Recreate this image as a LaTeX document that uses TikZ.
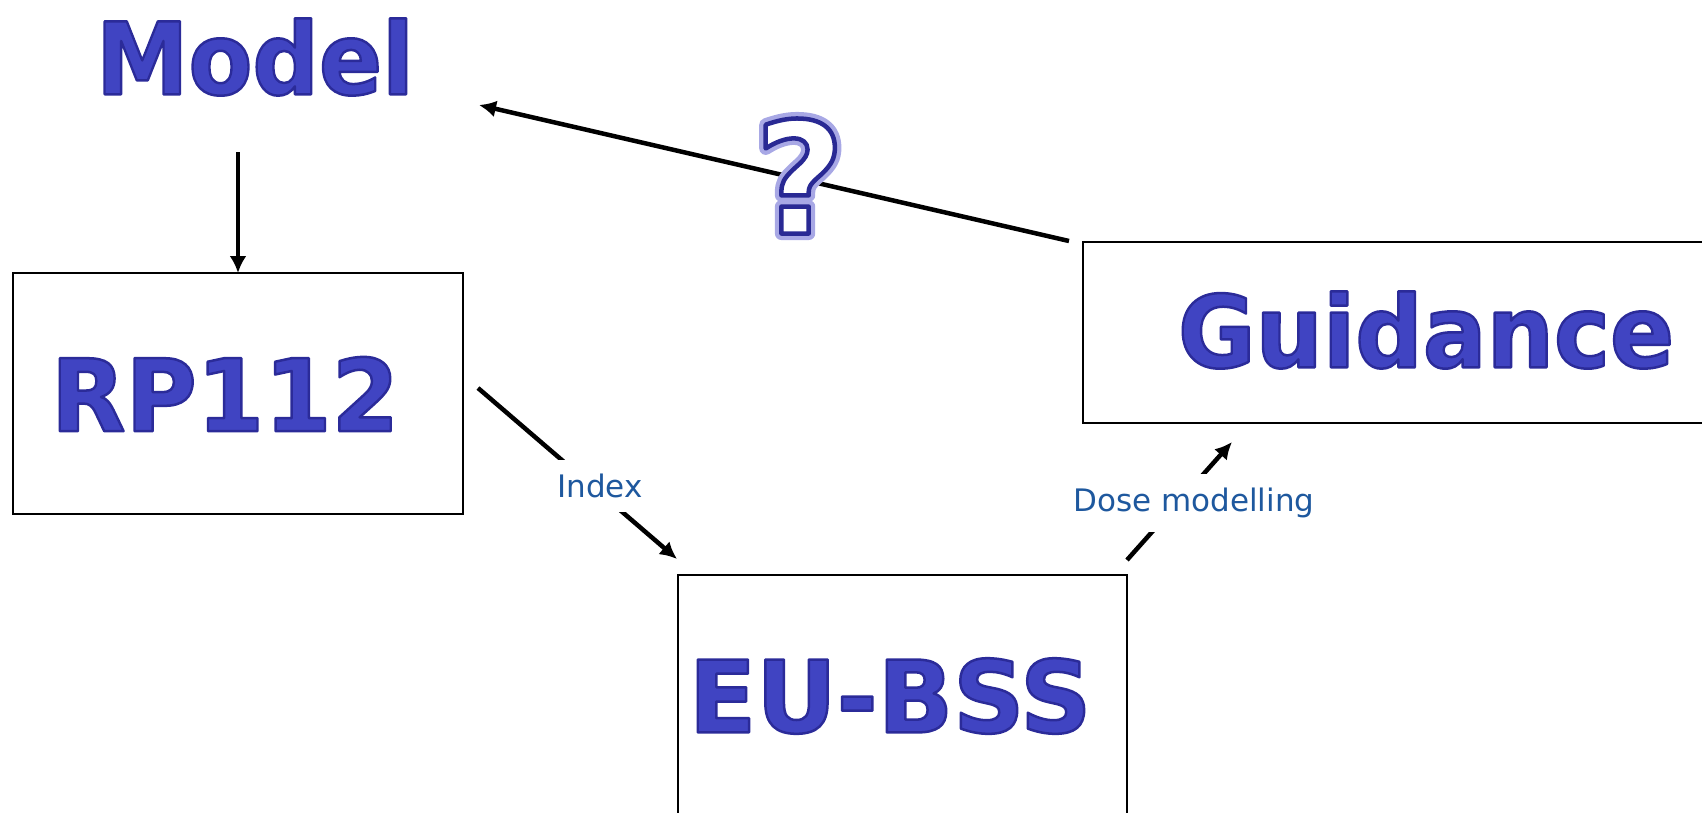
\documentclass[tikz,border=0pt]{standalone}
\usepackage{fontspec}
\setmainfont{DejaVu Sans}
\usetikzlibrary{arrows.meta,calc}
\definecolor{bigblue}{RGB}{64,68,194}
\definecolor{labblue}{RGB}{30,88,158}
\tikzset{
  bigtext/.style={text=bigblue,font=\fontsize{100}{110}\selectfont\bfseries,inner sep=0pt,anchor=center},
  labtext/.style={text=labblue,font=\fontsize{31}{36}\selectfont,fill=white,inner xsep=3pt,inner ysep=14pt},
  boxnode/.style={draw=black,line width=2.5pt,inner sep=0pt},
  conn/.style={line width=4.5pt,-{Latex[length=17pt,width=17pt]}},
  qstyle/.style={font=\fontsize{155}{160}\selectfont\bfseries,inner sep=0pt}
}
\newcommand{\bevtext}[1]{\special{pdf:literal direct 2 Tr 2.5 w 1 j 0.17 0.17 0.60 RG}#1\special{pdf:literal direct 0 Tr}}
\newcommand{\outlineq}{\special{pdf:literal direct 1 Tr 13 w 1 j 0.66 0.66 0.90 RG}\rlap{?}\special{pdf:literal direct 2 Tr 4.5 w 1 j 0.16 0.16 0.58 RG 1 1 1 rg}?\special{pdf:literal direct 0 Tr}}
\begin{document}
\begin{tikzpicture}[x=1pt,y=-1pt]
\useasboundingbox (0,0) rectangle (1702,812);
\clip (0,0) rectangle (1702,812);
% boxes
\node[boxnode,minimum width=450pt,minimum height=241pt] (rpbox) at (238,393.5) {};
\node[boxnode,minimum width=637pt,minimum height=181pt] (gbox) at (1401.5,332.5) {};
\node[boxnode,minimum width=449pt,minimum height=275pt] (ebox) at (902.5,712.5) {};
% big texts
\node[bigtext] (model) at (255,57) {\scalebox{0.93}[1]{\bevtext{Model}}};
\node[bigtext] (rp) at (225,394) {\scalebox{0.97}[1]{\bevtext{RP112}}};
\node[bigtext] (guid) at (1426,330) {\scalebox{0.945}[1]{\bevtext{Guidance}}};
\node[bigtext] (eubss) at (890,696) {\scalebox{0.99}[1]{\bevtext{EU-BSS}}};
% connector end points
\coordinate (m1) at (238,152);
\coordinate (m2) at (238,273);
\coordinate (i1) at (478,388);
\coordinate (i2) at (677,559);
\coordinate (d1) at (1127,560);
\coordinate (d2) at (1232,442);
\coordinate (q1) at (1069,241);
\coordinate (q2) at (479,105);
% connectors
\draw[conn] (m1) -- (m2);
\draw[conn] (i1) -- (i2);
\draw[conn] (d1) -- (d2);
\draw[conn] (q1) -- (q2);
% labels
\node[labtext] (index) at (600,486) {Index};
\node[labtext] (dose) at (1194,503) {Dose modelling};
% question mark
\node[qstyle] (qm) at (800,176) {\outlineq};
\end{tikzpicture}
\end{document}
